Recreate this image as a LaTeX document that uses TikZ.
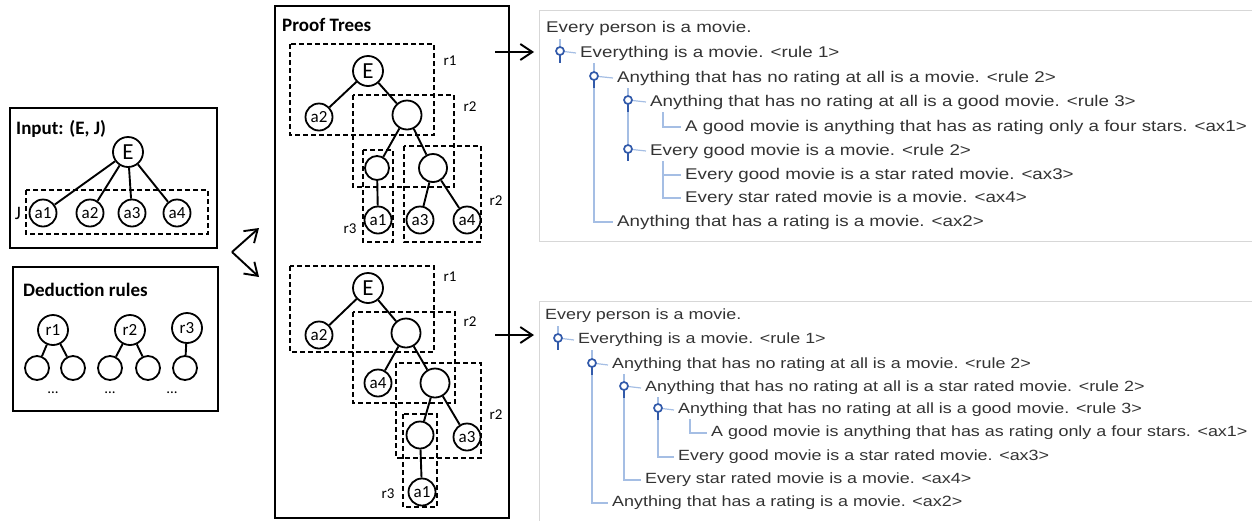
\documentclass[tikz,border=0pt]{standalone}
\usepackage{fontspec}
\setmainfont{Carlito}
\newfontfamily\treefont[FakeStretch=1.21]{Liberation Sans}
\usetikzlibrary{arrows.meta}

\definecolor{guideblue}{RGB}{165,190,228}
\definecolor{iconblue}{RGB}{50,90,170}
\definecolor{panelgray}{RGB}{215,215,215}

\tikzset{
  box/.style={draw, line width=2.5pt},
  grp/.style={draw, line width=1.2pt, dash pattern=on 5pt off 3pt},
  title/.style={anchor=west, inner sep=0pt, font=\bfseries\fontsize{19}{19}\selectfont},
  nd/.style={circle, draw, line width=1.8pt, minimum size=27pt, inner sep=0pt, font=\fontsize{17}{17}\selectfont},
  bignd/.style={nd, minimum size=30pt, font=\fontsize{23}{23}\selectfont},
  small/.style={nd, minimum size=24pt},
  edge/.style={line width=1.9pt},
  grplabel/.style={inner sep=0pt, font=\fontsize{15}{15}\selectfont},
  fork/.style={line width=1.9pt, -{Straight Barb[length=12pt,width=16pt]}},
  rowtop/.style={anchor=west, inner sep=0pt, text=black!80, font=\treefont\fontsize{15.5}{15.5}\selectfont},
  rowbot/.style={anchor=west, inner sep=0pt, text=black!80, font=\treefont\fontsize{14.8}{14.8}\selectfont},
  guide/.style={draw=guideblue, line width=1.2pt},
  panel/.style={draw=panelgray, line width=1pt}
}

\newcommand{\handle}[2]{
  \draw[iconblue, line width=2.2pt] (#1,#2+2) -- (#1,#2+10);
  \draw[iconblue, line width=1.7pt, fill=white] (#1,#2-2) circle [radius=4];
}

\begin{document}
\begin{tikzpicture}[x=1pt,y=-1pt]
\useasboundingbox (0,0) rectangle (1252,520);

\draw[box] (10,108) rectangle (217,248);
\node[title] (intitle) at (16,129) {Input: (E, J)};
\node[bignd] (E) at (128,152) {E};
\node[nd] (a1) at (43,213) {a1};
\node[nd] (a2) at (90,213) {a2};
\node[nd] (a3) at (132,213) {a3};
\node[nd] (a4) at (177,213) {a4};
\draw[edge] (E) -- (a1);
\draw[edge] (E) -- (a2);
\draw[edge] (E) -- (a3);
\draw[edge] (E) -- (a4);
\draw[grp] (26,190) rectangle (208,234);
\node[grplabel, font=\fontsize{19}{19}\selectfont] (J) at (18,213) {J};

\draw[box] (13,267) rectangle (218,411);
\node[title] (dedtitle) at (23,290) {Deduction rules};
\node[nd, minimum size=30pt] (r1) at (53,330) {r1};
\node[nd, minimum size=30pt] (r2) at (130,330) {r2};
\node[nd, minimum size=30pt] (r3) at (187,328) {r3};
\node[small] (c1) at (37,368) {};
\node[small] (c2) at (73,368) {};
\node[small] (c3) at (110,368) {};
\node[small] (c4) at (148,368) {};
\node[small] (c5) at (185,368) {};
\draw[edge] (r1) -- (c1);
\draw[edge] (r1) -- (c2);
\draw[edge] (r2) -- (c3);
\draw[edge] (r2) -- (c4);
\draw[edge] (r3) -- (c5);
\node[grplabel] (d1) at (53,393) {...};
\node[grplabel] (d2) at (110,393) {...};
\node[grplabel] (d3) at (172,393) {...};

\coordinate (split) at (232,252);
\coordinate (up) at (259,228);
\coordinate (down) at (259,277);
\draw[fork] (split) -- (up);
\draw[fork] (split) -- (down);

\draw[box] (275,6) rectangle (509,518);
\node[title] (prtitle) at (282,25) {Proof Trees};

\node[bignd] (tE) at (368,71) {E};
\node[nd] (ta2) at (319,117) {a2};
\node[nd, minimum size=29pt] (tn1) at (407,115) {};
\node[small] (tn2) at (377,168) {};
\node[nd, minimum size=28pt] (tn3) at (433,168) {};
\node[nd] (ta1) at (378,220) {a1};
\node[nd] (ta3) at (420,220) {a3};
\node[nd] (ta4) at (467,220) {a4};
\draw[edge] (tE) -- (ta2);
\draw[edge] (tE) -- (tn1);
\draw[edge] (tn1) -- (tn2);
\draw[edge] (tn1) -- (tn3);
\draw[edge] (tn2) -- (ta1);
\draw[edge] (tn3) -- (ta3);
\draw[edge] (tn3) -- (ta4);
\draw[grp] (290,44) rectangle (434,135);
\draw[grp] (353,95) rectangle (454,187);
\draw[grp] (404,146) rectangle (481,242);
\draw[grp] (363,150) rectangle (393,242);
\node[grplabel] (tl1) at (450,61) {r1};
\node[grplabel] (tl2) at (470,107) {r2};
\node[grplabel] (tl3) at (496,201) {r2};
\node[grplabel] (tl4) at (350,229) {r3};

\node[bignd] (bE) at (368,288) {E};
\node[nd] (ba2) at (319,335) {a2};
\node[nd, minimum size=29pt] (bn1) at (406,333) {};
\node[nd] (ba4) at (378,383) {a4};
\node[nd, minimum size=29pt] (bn2) at (435,383) {};
\node[nd] (bn3) at (420,435) {};
\node[nd] (ba3) at (467,437) {a3};
\node[nd] (ba1) at (422,492) {a1};
\draw[edge] (bE) -- (ba2);
\draw[edge] (bE) -- (bn1);
\draw[edge] (bn1) -- (ba4);
\draw[edge] (bn1) -- (bn2);
\draw[edge] (bn2) -- (bn3);
\draw[edge] (bn2) -- (ba3);
\draw[edge] (bn3) -- (ba1);
\draw[grp] (290,266) rectangle (434,352);
\draw[grp] (353,312) rectangle (455,403);
\draw[grp] (396,363) rectangle (481,458);
\draw[grp] (403,414) rectangle (437,507);
\node[grplabel] (bl1) at (450,277) {r1};
\node[grplabel] (bl2) at (470,322) {r2};
\node[grplabel] (bl3) at (496,415) {r2};
\node[grplabel] (bl4) at (388,494) {r3};

\coordinate (tfrom) at (495,52);
\coordinate (tto) at (534,52);
\coordinate (bfrom) at (495,335);
\coordinate (bto) at (534,335);
\draw[fork] (tfrom) -- (tto);
\draw[fork] (bfrom) -- (bto);

\draw[panel] (1253,10) -- (539,10) -- (539,241) -- (1253,241);
\draw[panel] (1253,301) -- (539,301) -- (539,521);

\node[rowtop] (t1) at (546,28) {Every person is a movie.};
\node[rowtop] (t2) at (580,53) {Everything is a movie. <rule 1>};
\node[rowtop] (t3) at (617,78) {Anything that has no rating at all is a movie. <rule 2>};
\node[rowtop] (t4) at (650,102) {Anything that has no rating at all is a good movie. <rule 3>};
\node[rowtop] (t5) at (685,127) {A good movie is anything that has as rating only a four stars. <ax1>};
\node[rowtop] (t6) at (650,151) {Every good movie is a movie. <rule 2>};
\node[rowtop] (t7) at (685,175) {Every good movie is a star rated movie. <ax3>};
\node[rowtop] (t8) at (685,198) {Every star rated movie is a movie. <ax4>};
\node[rowtop] (t9) at (617,222) {Anything that has a rating is a movie. <ax2>};

\draw[guide] (560,39) -- (560,48);
\draw[guide] (594,63) -- (594,222) -- ([xshift=-4pt]t9.west);
\draw[guide] (628,88) -- (628,151);
\draw[guide] (663,112) -- (663,127) -- ([xshift=-4pt]t5.west);
\draw[guide] (663,161) -- (663,198) -- ([xshift=-4pt]t8.west);
\draw[guide] (663,175) -- ([xshift=-4pt]t7.west);
\draw[guide] (560,51) -- ([xshift=-4pt]t2.west);
\draw[guide] (594,76) -- ([xshift=-4pt]t3.west);
\draw[guide] (628,100) -- ([xshift=-4pt]t4.west);
\draw[guide] (628,149) -- ([xshift=-4pt]t6.west);
\handle{560}{53}
\handle{594}{78}
\handle{628}{102}
\handle{628}{151}

\node[rowbot] (b1) at (545,316) {Every person is a movie.};
\node[rowbot] (b2) at (578,340) {Everything is a movie. <rule 1>};
\node[rowbot] (b3) at (612,365) {Anything that has no rating at all is a movie. <rule 2>};
\node[rowbot] (b4) at (645,388) {Anything that has no rating at all is a star rated movie. <rule 2>};
\node[rowbot] (b5) at (678,410) {Anything that has no rating at all is a good movie. <rule 3>};
\node[rowbot] (b6) at (711,433) {A good movie is anything that has as rating only a four stars. <ax1>};
\node[rowbot] (b7) at (678,457) {Every good movie is a star rated movie. <ax3>};
\node[rowbot] (b8) at (645,480) {Every star rated movie is a movie. <ax4>};
\node[rowbot] (b9) at (612,503) {Anything that has a rating is a movie. <ax2>};

\draw[guide] (558,326) -- (558,335);
\draw[guide] (592,350) -- (592,503) -- ([xshift=-4pt]b9.west);
\draw[guide] (624,374) -- (624,480) -- ([xshift=-4pt]b8.west);
\draw[guide] (658,397) -- (658,457) -- ([xshift=-4pt]b7.west);
\draw[guide] (690,419) -- (690,433) -- ([xshift=-4pt]b6.west);
\draw[guide] (558,338) -- ([xshift=-4pt]b2.west);
\draw[guide] (592,363) -- ([xshift=-4pt]b3.west);
\draw[guide] (624,386) -- ([xshift=-4pt]b4.west);
\draw[guide] (658,408) -- ([xshift=-4pt]b5.west);
\handle{558}{340}
\handle{592}{365}
\handle{624}{388}
\handle{658}{410}
\end{tikzpicture}
\end{document}
